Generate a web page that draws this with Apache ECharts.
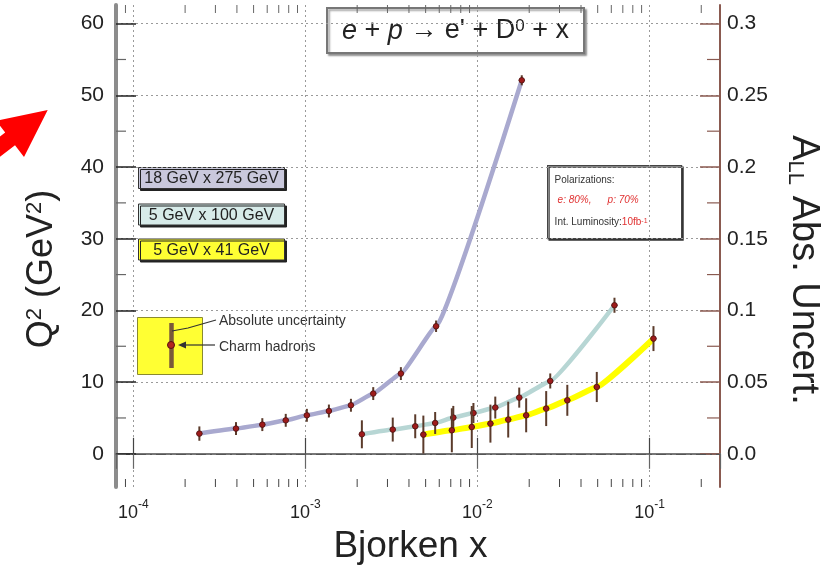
<!DOCTYPE html>
<html>
<head>
<meta charset="utf-8">
<script src="https://cdn.jsdelivr.net/npm/echarts@6/dist/echarts.min.js"></script>
<style>
  html, body { margin: 0; padding: 0; background: #fff; }
  #chart { width: 840px; height: 566px; }
</style>
</head>
<body>
<div id="chart"></div>
<script>
// Bjorken x, Q^2 and the A_LL uncertainty bar (drawn in Q^2 units) per beam setting
var x18 = [2.42e-4, 3.95e-4, 5.62e-4, 7.69e-4, 1.02e-3, 1.37e-3, 1.84e-3, 2.48e-3, 3.59e-3, 5.75e-3, 1.81e-2];
var q18 = [2.82, 3.52, 4.07, 4.67, 5.37, 5.97, 6.77, 8.40, 11.19, 17.79, 52.1];
var e18 = [1.0, 0.9, 0.9, 0.9, 0.9, 0.9, 0.9, 0.9, 0.9, 0.8, 0.7];

var x100 = [2.13e-3, 3.22e-3, 4.35e-3, 5.68e-3, 7.24e-3, 9.48e-3, 1.27e-2, 1.75e-2, 2.65e-2, 6.26e-2];
var q100 = [2.72, 3.38, 3.84, 4.30, 5.05, 5.69, 6.45, 7.84, 10.16, 20.72];
var e100 = [1.95, 1.67, 1.67, 1.53, 1.63, 1.4, 1.53, 1.4, 1.05, 1.05];

var x41 = [4.85e-3, 7.1e-3, 9.27e-3, 1.19e-2, 1.51e-2, 1.92e-2, 2.51e-2, 3.33e-2, 4.94e-2, 0.1055];
var q41 = [2.68, 3.28, 3.74, 4.21, 4.77, 5.37, 6.31, 7.46, 9.32, 16.07];
var e41 = [2.65, 3.07, 2.93, 2.65, 2.5, 2.37, 2.44, 2.16, 2.1, 1.74];

var seriesNames = ['18 GeV x 275 GeV', '5 GeV x 100 GeV', '5 GeV x 41 GeV'];

// axes
var xMin = 7.93e-5, xMax = 0.257;
var yMin = -4.63, yMax = 62.6;
var allRatio = 200; // Q^2 units per unit of A_LL on the right axis
var yTicks = [0, 10, 20, 30, 40, 50, 60];
var yMinor = [5, 15, 25, 35, 45, 55];
var rightTicks = [0, 0.05, 0.1, 0.15, 0.2, 0.25, 0.3];
var rightLabels = ['0.0', '0.05', '0.1', '0.15', '0.2', '0.25', '0.3'];
var xMinor = [9e-5,
  2e-4, 3e-4, 4e-4, 5e-4, 6e-4, 7e-4, 8e-4, 9e-4,
  2e-3, 3e-3, 4e-3, 5e-3, 6e-3, 7e-3, 8e-3, 9e-3,
  2e-2, 3e-2, 4e-2, 5e-2, 6e-2, 7e-2, 8e-2, 9e-2,
  2e-1];

var FONT = '"Liberation Sans", Arial, Helvetica, sans-serif';
var ink = '#222';
var barColor = '#5b3b2b';

function pairs(xs, ys) { return xs.map(function (x, i) { return [x, ys[i]]; }); }
function triples(xs, ys, es) { return xs.map(function (x, i) { return [x, ys[i], es[i]]; }); }

function errItem(params, api) {
  var x = api.value(0), y = api.value(1), e = api.value(2);
  var lo = api.coord([x, y - e]), hi = api.coord([x, y + e]), c = api.coord([x, y]);
  return {
    type: 'group',
    children: [
      { type: 'line', shape: { x1: lo[0], y1: lo[1], x2: hi[0], y2: hi[1] }, style: { stroke: barColor, lineWidth: 2 } },
      { type: 'line', shape: { x1: c[0] - 3, y1: c[1], x2: c[0] + 3, y2: c[1] }, style: { stroke: barColor, lineWidth: 1.5 } },
      { type: 'circle', shape: { cx: c[0], cy: c[1], r: 2.8 }, style: { fill: '#9e1b1b', stroke: '#4a1010', lineWidth: 0.8 } }
    ]
  };
}

function minorXItem(params, api) {
  var px = api.coord([api.value(0), 0])[0];
  var cs = params.coordSys;
  return {
    type: 'group',
    children: [
      { type: 'line', shape: { x1: px, y1: cs.y + cs.height, x2: px, y2: cs.y + cs.height - 8 }, style: { stroke: '#444', lineWidth: 1 } },
      { type: 'line', shape: { x1: px, y1: cs.y, x2: px, y2: cs.y + 8 }, style: { stroke: '#666', lineWidth: 1 } }
    ]
  };
}

function minorYItem(params, api) {
  var py = api.coord([1e-3, api.value(1)])[1];
  var cs = params.coordSys;
  return {
    type: 'group',
    children: [
      { type: 'line', shape: { x1: cs.x, y1: py, x2: cs.x + 10, y2: py }, style: { stroke: '#666', lineWidth: 1.2 } },
      { type: 'line', shape: { x1: cs.x + cs.width, y1: py, x2: cs.x + cs.width - 13, y2: py }, style: { stroke: '#8a5a50', lineWidth: 1.2 } }
    ]
  };
}

function lineSeries(name, data, color, width) {
  return {
    type: 'line', name: name, data: data, showSymbol: false, smooth: 0.1, smoothMonotone: 'x',
    lineStyle: { color: color, width: width }, z: 2, silent: true
  };
}

function errSeries(data) {
  return { type: 'custom', renderItem: errItem, data: data, z: 5, silent: true };
}

function legendBox(y, fill, label) {
  return {
    type: 'group', left: 138, top: y,
    children: [
      { type: 'rect', shape: { x: 0, y: 0, width: 146, height: 21 },
        style: { fill: fill, stroke: '#333', lineWidth: 1, shadowColor: '#222', shadowOffsetX: 2, shadowOffsetY: 2, shadowBlur: 0 } },
      { type: 'text', x: 73, y: 11.5,
        style: { text: label, fontSize: 16, fontFamily: FONT, fill: ink, align: 'center', verticalAlign: 'middle' } }
    ]
  };
}

var chart = echarts.init(document.getElementById('chart'), null, { renderer: 'canvas' });

var zeroLine = {
  silent: true, symbol: 'none', label: { show: false },
  lineStyle: { color: '#555', width: 1.2, type: [10, 4, 2, 4] },
  data: [{ yAxis: 0 }]
};

var s18 = lineSeries(seriesNames[0], pairs(x18, q18), '#a9a9cf', 4.5);
s18.markLine = zeroLine;

chart.setOption({
  animation: false,
  backgroundColor: '#fff',
  grid: { left: 116, right: 120, top: 5, bottom: 79, outerBoundsMode: 'none', containLabel: false },
  xAxis: [{
    type: 'log', logBase: 10, min: xMin, max: xMax, position: 'bottom',
    axisLine: { lineStyle: { color: '#444', width: 1.5 } },
    axisTick: { inside: true, length: 16, lineStyle: { color: '#444', width: 1.2 } },
    axisLabel: {
      showMinLabel: false, showMaxLabel: false, margin: 12, color: ink,
      formatter: function (v) { return '{b|10}{e|' + Math.round(Math.log10(v)) + '}'; },
      rich: {
        b: { fontSize: 18, fontFamily: FONT, color: ink, lineHeight: 28 },
        e: { fontSize: 12, fontFamily: FONT, color: ink, verticalAlign: 'top', lineHeight: 13 }
      }
    },
    splitLine: { show: true, lineStyle: { color: '#9a9a9a', width: 1, type: [2, 3] } },
    name: 'Bjorken x', nameLocation: 'middle', nameGap: 41, nameMoveOverlap: false,
    nameTextStyle: { fontSize: 37, fontFamily: FONT, color: ink, padding: [0, 15, 0, 0] }
  }, {
    type: 'log', logBase: 10, min: xMin, max: xMax, position: 'top',
    axisLine: { lineStyle: { color: '#777', width: 2 } },
    axisTick: { inside: true, length: 15, lineStyle: { color: '#666', width: 1.2 } },
    axisLabel: { show: false },
    splitLine: { show: false }
  }],
  yAxis: [{
    type: 'value', min: yMin, max: yMax, position: 'left',
    axisLine: { show: true, lineStyle: { color: '#8c8c8c', width: 4 } },
    axisTick: { show: true, inside: true, length: 20, customValues: yTicks, lineStyle: { color: '#222', width: 1.5 } },
    axisLabel: { customValues: yTicks, margin: 12, fontSize: 21, fontFamily: FONT, color: ink },
    splitLine: { show: true, lineStyle: { color: '#9a9a9a', width: 1, type: [2, 3] } }
  }, {
    type: 'value', min: yMin / allRatio, max: yMax / allRatio, position: 'right',
    axisLine: { show: true, lineStyle: { color: '#8a5a50', width: 2 } },
    axisTick: { show: true, inside: true, length: 20, customValues: rightTicks, lineStyle: { color: '#8a5a50', width: 1.5 } },
    axisLabel: {
      customValues: rightTicks, margin: 7, fontSize: 21, fontFamily: FONT, color: ink,
      formatter: function (v) { return rightLabels[Math.round(v * 20)]; }
    },
    splitLine: { show: false }
  }],
  series: [
    s18,
    lineSeries(seriesNames[1], pairs(x100, q100), '#b7d6d4', 4.5),
    lineSeries(seriesNames[2], pairs(x41, q41), '#ffff00', 6),
    errSeries(triples(x18, q18, e18)),
    errSeries(triples(x100, q100, e100)),
    errSeries(triples(x41, q41, e41)),
    { type: 'custom', renderItem: minorXItem, data: xMinor.map(function (v) { return [v, 0]; }), z: 6, silent: true },
    { type: 'custom', renderItem: minorYItem, data: yMinor.map(function (v) { return [1e-3, v]; }), z: 6, silent: true }
  ],
  graphic: [
    // red pointer arrow at the left edge
    { type: 'polygon', shape: { points: [[47.7, 110], [24, 157], [15, 145.2], [-16.7, 169.6], [-26.5, 157], [5.2, 132.6], [-3.8, 120.8]] },
      style: { fill: '#ff0000' } },
    // y axis titles
    { type: 'text', x: 42, y: 269, rotation: Math.PI / 2,
      style: { text: 'Q{s|2} (GeV{s|2})', fontSize: 36, fontFamily: FONT, fill: ink, align: 'center', verticalAlign: 'middle',
        rich: { s: { fontSize: 22, fontFamily: FONT, fill: ink, verticalAlign: 'top', lineHeight: 22 } } } },
    { type: 'text', x: 803, y: 270, rotation: -Math.PI / 2,
      style: { text: 'A{s|LL} Abs. Uncert.', fontSize: 38, fontFamily: FONT, fill: ink, align: 'center', verticalAlign: 'middle',
        rich: { s: { fontSize: 22, fontFamily: FONT, fill: ink, verticalAlign: 'bottom', lineHeight: 22 } } } },
    // process title
    { type: 'group', left: 326, top: 7, children: [
      { type: 'rect', shape: { x: 0, y: 0, width: 257, height: 45 },
        style: { fill: '#fff', stroke: '#777', lineWidth: 2, shadowColor: 'rgba(0,0,0,0.35)', shadowOffsetX: 2, shadowOffsetY: 2, shadowBlur: 2 } },
      { type: 'text', x: 128.5, y: 23,
        style: { text: '{i|e} + {i|p} \u2192 e\' + D{s|0} + x', fontSize: 27, fontFamily: FONT, fill: ink, align: 'center', verticalAlign: 'middle',
          rich: {
            i: { fontSize: 27, fontFamily: FONT, fontStyle: 'italic', fill: ink },
            s: { fontSize: 17, fontFamily: FONT, fill: ink, verticalAlign: 'top', lineHeight: 17 }
          } } }
    ] },
    legendBox(167, '#c9c8dc', seriesNames[0]),
    legendBox(203.5, '#d7ebe9', seriesNames[1]),
    legendBox(238.5, '#ffff33', seriesNames[2]),
    // polarisation / luminosity box
    { type: 'group', left: 547, top: 165, children: [
      { type: 'rect', shape: { x: 0, y: 0, width: 134, height: 73 },
        style: { fill: '#fff', stroke: '#444', lineWidth: 1.2, shadowColor: '#333', shadowOffsetX: 1.5, shadowOffsetY: 1.5, shadowBlur: 0 } },
      { type: 'text', x: 7, y: 15, style: { text: 'Polarizations:', fontSize: 10, fontFamily: FONT, fill: '#333', verticalAlign: 'middle' } },
      { type: 'text', x: 10, y: 35, style: { text: 'e: 80%,', fontSize: 10, fontFamily: FONT, fontStyle: 'italic', fill: '#e03030', verticalAlign: 'middle' } },
      { type: 'text', x: 60, y: 35, style: { text: 'p: 70%', fontSize: 10, fontFamily: FONT, fontStyle: 'italic', fill: '#e03030', verticalAlign: 'middle' } },
      { type: 'text', x: 7, y: 57,
        style: { text: 'Int. Luminosity:{r|10fb}{rs|-1}', fontSize: 10, fontFamily: FONT, fill: '#333', verticalAlign: 'middle',
          rich: {
            r: { fontSize: 10, fontFamily: FONT, fill: '#e03030' },
            rs: { fontSize: 7, fontFamily: FONT, fill: '#e03030', verticalAlign: 'top', lineHeight: 8 }
          } } }
    ] },
    // marker explanation inset
    { type: 'rect', shape: { x: 137.5, y: 317.5, width: 65, height: 57 },
      style: { fill: '#ffff33', stroke: '#8a8a30', lineWidth: 1 } },
    { type: 'line', shape: { x1: 171.5, y1: 323, x2: 171.5, y2: 368 }, style: { stroke: '#7a5a3a', lineWidth: 4.5 } },
    { type: 'circle', shape: { cx: 171, cy: 345, r: 3.5 }, style: { fill: '#b3261e', stroke: '#5a1010', lineWidth: 1 } },
    { type: 'polyline', shape: { points: [[172, 331], [188, 328], [216, 320]] }, style: { stroke: '#333', lineWidth: 1.2, fill: null } },
    { type: 'line', shape: { x1: 184, y1: 345, x2: 215, y2: 345 }, style: { stroke: '#333', lineWidth: 1.2 } },
    { type: 'polygon', shape: { points: [[178, 345], [186, 341.5], [186, 348.5]] }, style: { fill: '#333' } },
    { type: 'text', x: 219, y: 321, style: { text: 'Absolute uncertainty', fontSize: 14, fontFamily: FONT, fill: '#333', verticalAlign: 'middle' } },
    { type: 'text', x: 219, y: 347, style: { text: 'Charm hadrons', fontSize: 14, fontFamily: FONT, fill: '#333', verticalAlign: 'middle' } }
  ]
});
</script>
</body>
</html>
